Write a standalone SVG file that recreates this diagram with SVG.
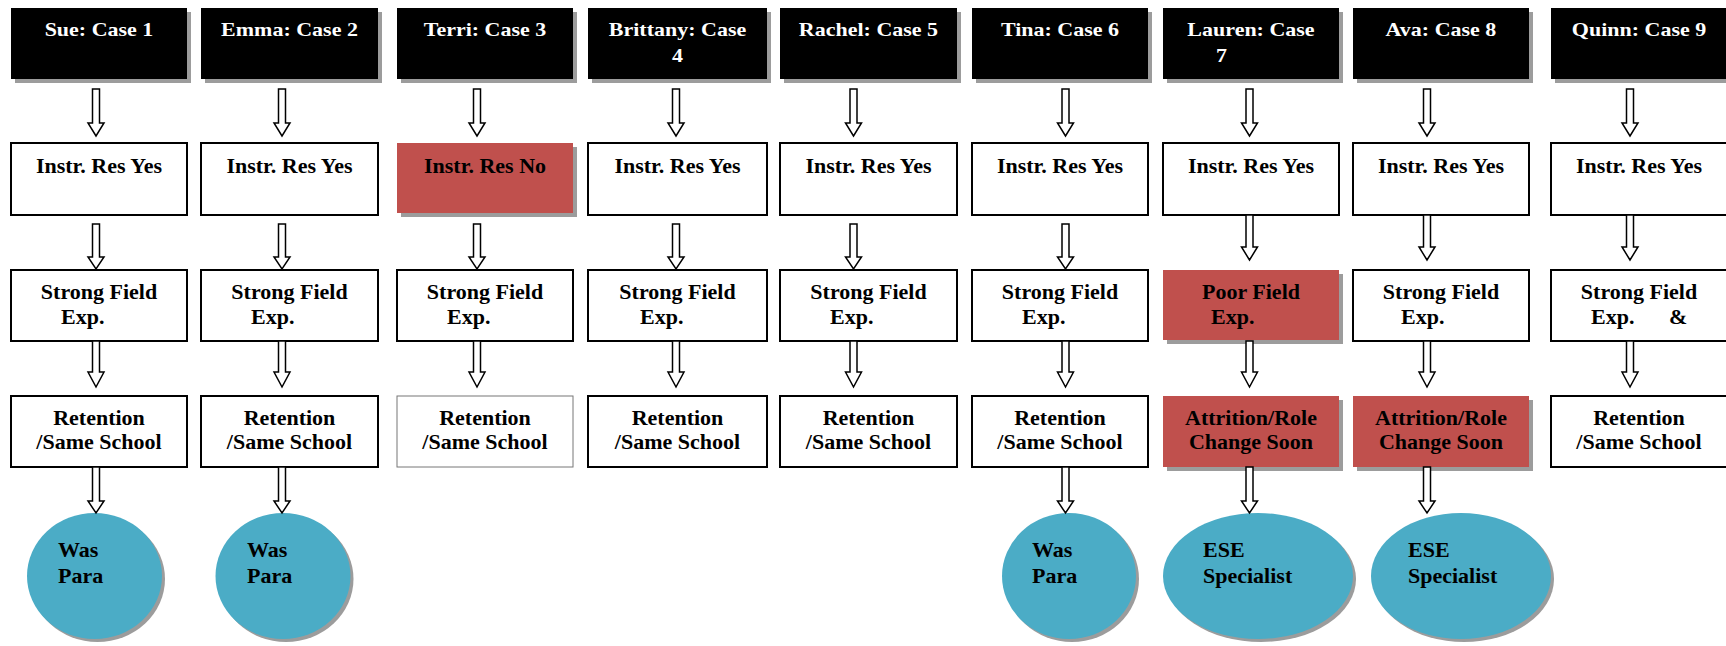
<svg xmlns="http://www.w3.org/2000/svg" width="1726" height="646" viewBox="0 0 1726 646">
<style>
.hdr{fill:#000}
.sh{fill:#9c9c9c}
.box{fill:#fff;stroke:#000;stroke-width:2}
.box2{fill:#fff;stroke:#777;stroke-width:1}
.red{fill:#C0504D}
.circ{fill:#4BACC6}
.t{font-family:"Liberation Serif","Times New Roman",serif;font-weight:bold;font-size:22px;fill:#000}
.c{text-anchor:middle}
.w{fill:#fff}
.arr{fill:#fff;stroke:#000;stroke-width:1.5}
</style>
<rect width="1726" height="646" fill="#fff"/>

<!-- Headers -->
<g id="h1"><rect class="sh" x="15" y="12" width="176" height="71"/><rect class="hdr" x="11" y="8" width="176" height="71"/><text class="t c w" transform="translate(99,36) scale(1,0.82)">Sue: Case 1</text></g>
<g id="h2"><rect class="sh" x="205" y="12" width="177" height="71"/><rect class="hdr" x="201" y="8" width="177" height="71"/><text class="t c w" transform="translate(289.5,36) scale(1,0.82)">Emma: Case 2</text></g>
<g id="h3"><rect class="sh" x="401" y="12" width="176" height="71"/><rect class="hdr" x="397" y="8" width="176" height="71"/><text class="t c w" transform="translate(485,36) scale(1,0.82)">Terri: Case 3</text></g>
<g id="h4"><rect class="sh" x="592" y="12" width="179" height="71"/><rect class="hdr" x="588" y="8" width="179" height="71"/><text class="t c w" transform="translate(677.5,36) scale(1,0.82)">Brittany: Case<tspan x="0" y="31.7">4</tspan></text></g>
<g id="h5"><rect class="sh" x="784" y="12" width="177" height="71"/><rect class="hdr" x="780" y="8" width="177" height="71"/><text class="t c w" transform="translate(868.5,36) scale(1,0.82)">Rachel: Case 5</text></g>
<g id="h6"><rect class="sh" x="976" y="12" width="176" height="71"/><rect class="hdr" x="972" y="8" width="176" height="71"/><text class="t c w" transform="translate(1060,36) scale(1,0.82)">Tina: Case 6</text></g>
<g id="h7"><rect class="sh" x="1167" y="12" width="176" height="71"/><rect class="hdr" x="1163" y="8" width="176" height="71"/><text class="t c w" transform="translate(1251,36) scale(1,0.82)">Lauren: Case<tspan x="-35" y="31.7" text-anchor="start">7</tspan></text></g>
<g id="h8"><rect class="sh" x="1357" y="12" width="176" height="71"/><rect class="hdr" x="1353" y="8" width="176" height="71"/><text class="t c w" transform="translate(1441,36) scale(1,0.82)">Ava: Case 8</text></g>
<g id="h9"><rect class="sh" x="1555" y="12" width="176" height="71"/><rect class="hdr" x="1551" y="8" width="176" height="71"/><text class="t c w" transform="translate(1639,36) scale(1,0.82)">Quinn: Case 9</text></g>

<!-- Instructional resources -->
<g id="i1"><rect class="box" x="11" y="143" width="176" height="72"/><text class="t c" x="99" y="173">Instr. Res Yes</text></g>
<g id="i2"><rect class="box" x="201" y="143" width="177" height="72"/><text class="t c" x="289.5" y="173">Instr. Res Yes</text></g>
<g id="i3"><rect class="sh" x="401" y="147" width="176" height="70"/><rect class="red" x="397" y="143" width="176" height="70"/><text class="t c" x="485" y="173">Instr. Res No</text></g>
<g id="i4"><rect class="box" x="588" y="143" width="179" height="72"/><text class="t c" x="677.5" y="173">Instr. Res Yes</text></g>
<g id="i5"><rect class="box" x="780" y="143" width="177" height="72"/><text class="t c" x="868.5" y="173">Instr. Res Yes</text></g>
<g id="i6"><rect class="box" x="972" y="143" width="176" height="72"/><text class="t c" x="1060" y="173">Instr. Res Yes</text></g>
<g id="i7"><rect class="box" x="1163" y="143" width="176" height="72"/><text class="t c" x="1251" y="173">Instr. Res Yes</text></g>
<g id="i8"><rect class="box" x="1353" y="143" width="176" height="72"/><text class="t c" x="1441" y="173">Instr. Res Yes</text></g>
<g id="i9"><rect class="box" x="1551" y="143" width="177" height="72"/><text class="t c" x="1639" y="173">Instr. Res Yes</text></g>

<!-- Field experience -->
<g id="f1"><rect class="box" x="11" y="270" width="176" height="71"/><text class="t c" x="99" y="299">Strong Field</text><text class="t" x="61" y="324">Exp.</text></g>
<g id="f2"><rect class="box" x="201" y="270" width="177" height="71"/><text class="t c" x="289.5" y="299">Strong Field</text><text class="t" x="251" y="324">Exp.</text></g>
<g id="f3"><rect class="box" x="397" y="270" width="176" height="71"/><text class="t c" x="485" y="299">Strong Field</text><text class="t" x="447" y="324">Exp.</text></g>
<g id="f4"><rect class="box" x="588" y="270" width="179" height="71"/><text class="t c" x="677.5" y="299">Strong Field</text><text class="t" x="640" y="324">Exp.</text></g>
<g id="f5"><rect class="box" x="780" y="270" width="177" height="71"/><text class="t c" x="868.5" y="299">Strong Field</text><text class="t" x="830" y="324">Exp.</text></g>
<g id="f6"><rect class="box" x="972" y="270" width="176" height="71"/><text class="t c" x="1060" y="299">Strong Field</text><text class="t" x="1022" y="324">Exp.</text></g>
<g id="f7"><rect class="sh" x="1167" y="274" width="176" height="70"/><rect class="red" x="1163" y="270" width="176" height="70"/><text class="t c" x="1251" y="299">Poor Field</text><text class="t" x="1211" y="324">Exp.</text></g>
<g id="f8"><rect class="box" x="1353" y="270" width="176" height="71"/><text class="t c" x="1441" y="299">Strong Field</text><text class="t" x="1401" y="324">Exp.</text></g>
<g id="f9"><rect class="box" x="1551" y="270" width="177" height="71"/><text class="t c" x="1639" y="299">Strong Field</text><text class="t" y="324"><tspan x="1591">Exp.</tspan><tspan x="1669">&amp;</tspan></text></g>

<!-- Retention -->
<g id="r1"><rect class="box" x="11" y="396" width="176" height="71"/><text class="t c" x="99" y="425">Retention</text><text class="t c" x="99" y="449">/Same School</text></g>
<g id="r2"><rect class="box" x="201" y="396" width="177" height="71"/><text class="t c" x="289.5" y="425">Retention</text><text class="t c" x="289.5" y="449">/Same School</text></g>
<g id="r3"><rect class="box2" x="397" y="396" width="176" height="71"/><text class="t c" x="485" y="425">Retention</text><text class="t c" x="485" y="449">/Same School</text></g>
<g id="r4"><rect class="box" x="588" y="396" width="179" height="71"/><text class="t c" x="677.5" y="425">Retention</text><text class="t c" x="677.5" y="449">/Same School</text></g>
<g id="r5"><rect class="box" x="780" y="396" width="177" height="71"/><text class="t c" x="868.5" y="425">Retention</text><text class="t c" x="868.5" y="449">/Same School</text></g>
<g id="r6"><rect class="box" x="972" y="396" width="176" height="71"/><text class="t c" x="1060" y="425">Retention</text><text class="t c" x="1060" y="449">/Same School</text></g>
<g id="r7"><rect class="sh" x="1167" y="400" width="176" height="71"/><rect class="red" x="1163" y="396" width="176" height="71"/><text class="t c" x="1251" y="425">Attrition/Role</text><text class="t c" x="1251" y="449">Change Soon</text></g>
<g id="r8"><rect class="sh" x="1357" y="400" width="176" height="71"/><rect class="red" x="1353" y="396" width="176" height="71"/><text class="t c" x="1441" y="425">Attrition/Role</text><text class="t c" x="1441" y="449">Change Soon</text></g>
<g id="r9"><rect class="box" x="1551" y="396" width="177" height="71"/><text class="t c" x="1639" y="425">Retention</text><text class="t c" x="1639" y="449">/Same School</text></g>

<!-- Outcomes -->
<g id="o1"><ellipse class="sh" cx="97.5" cy="579" rx="67.5" ry="63"/><ellipse class="circ" cx="94.5" cy="576" rx="67.5" ry="63"/><text class="t" x="58" y="557">Was</text><text class="t" x="58" y="583">Para</text></g>
<g id="o2"><ellipse class="sh" cx="286" cy="579" rx="67.5" ry="63"/><ellipse class="circ" cx="283" cy="576" rx="67.5" ry="63"/><text class="t" x="247" y="557">Was</text><text class="t" x="247" y="583">Para</text></g>
<g id="o6"><ellipse class="sh" cx="1072" cy="579" rx="67" ry="63"/><ellipse class="circ" cx="1069" cy="576" rx="67" ry="63"/><text class="t" x="1032" y="557">Was</text><text class="t" x="1032" y="583">Para</text></g>
<g id="o7"><ellipse class="sh" cx="1261" cy="579" rx="95" ry="63"/><ellipse class="circ" cx="1258" cy="576" rx="95" ry="63"/><text class="t" x="1203" y="557">ESE</text><text class="t" x="1203" y="583">Specialist</text></g>
<g id="o8"><ellipse class="sh" cx="1464" cy="579" rx="90" ry="63"/><ellipse class="circ" cx="1461" cy="576" rx="90" ry="63"/><text class="t" x="1408" y="557">ESE</text><text class="t" x="1408" y="583">Specialist</text></g>

<!-- Connectors -->
<g id="connectors">
<!-- row 1 -->
<polygon class="arr" points="92.5,89 99.5,89 99.5,123 104,123 96,136 88,123 92.5,123"/>
<polygon class="arr" points="278.5,89 285.5,89 285.5,123 290,123 282,136 274,123 278.5,123"/>
<polygon class="arr" points="473.5,89 480.5,89 480.5,123 485,123 477,136 469,123 473.5,123"/>
<polygon class="arr" points="672.5,89 679.5,89 679.5,123 684,123 676,136 668,123 672.5,123"/>
<polygon class="arr" points="850,89 857,89 857,123 861.5,123 853.5,136 845.5,123 850,123"/>
<polygon class="arr" points="1062,89 1069,89 1069,123 1073.5,123 1065.5,136 1057.5,123 1062,123"/>
<polygon class="arr" points="1246,89 1253,89 1253,123 1257.5,123 1249.5,136 1241.5,123 1246,123"/>
<polygon class="arr" points="1423.5,89 1430.5,89 1430.5,123 1435,123 1427,136 1419,123 1423.5,123"/>
<polygon class="arr" points="1626.5,89 1633.5,89 1633.5,123 1638,123 1630,136 1622,123 1626.5,123"/>
<!-- row 2 -->
<polygon class="arr" points="92.5,224 99.5,224 99.5,257 104,257 96,269 88,257 92.5,257"/>
<polygon class="arr" points="278.5,224 285.5,224 285.5,257 290,257 282,269 274,257 278.5,257"/>
<polygon class="arr" points="473.5,224 480.5,224 480.5,257 485,257 477,269 469,257 473.5,257"/>
<polygon class="arr" points="672.5,224 679.5,224 679.5,257 684,257 676,269 668,257 672.5,257"/>
<polygon class="arr" points="850,224 857,224 857,257 861.5,257 853.5,269 845.5,257 850,257"/>
<polygon class="arr" points="1062,224 1069,224 1069,257 1073.5,257 1065.5,269 1057.5,257 1062,257"/>
<polygon class="arr" points="1246,215 1253,215 1253,247 1257.5,247 1249.5,260 1241.5,247 1246,247"/>
<polygon class="arr" points="1423.5,215 1430.5,215 1430.5,247 1435,247 1427,260 1419,247 1423.5,247"/>
<polygon class="arr" points="1626.5,215 1633.5,215 1633.5,247 1638,247 1630,260 1622,247 1626.5,247"/>
<!-- row 3 -->
<polygon class="arr" points="92.5,341 99.5,341 99.5,372 104,372 96,387 88,372 92.5,372"/>
<polygon class="arr" points="278.5,341 285.5,341 285.5,372 290,372 282,387 274,372 278.5,372"/>
<polygon class="arr" points="473.5,341 480.5,341 480.5,372 485,372 477,387 469,372 473.5,372"/>
<polygon class="arr" points="672.5,341 679.5,341 679.5,372 684,372 676,387 668,372 672.5,372"/>
<polygon class="arr" points="850,341 857,341 857,372 861.5,372 853.5,387 845.5,372 850,372"/>
<polygon class="arr" points="1062,341 1069,341 1069,372 1073.5,372 1065.5,387 1057.5,372 1062,372"/>
<polygon class="arr" points="1246,341 1253,341 1253,372 1257.5,372 1249.5,387 1241.5,372 1246,372"/>
<polygon class="arr" points="1423.5,341 1430.5,341 1430.5,372 1435,372 1427,387 1419,372 1423.5,372"/>
<polygon class="arr" points="1626.5,341 1633.5,341 1633.5,372 1638,372 1630,387 1622,372 1626.5,372"/>
<!-- row 4 -->
<polygon class="arr" points="92.5,467 99.5,467 99.5,501 104,501 96,513 88,501 92.5,501"/>
<polygon class="arr" points="278.5,467 285.5,467 285.5,501 290,501 282,513 274,501 278.5,501"/>
<polygon class="arr" points="1062,467 1069,467 1069,501 1073.5,501 1065.5,513 1057.5,501 1062,501"/>
<polygon class="arr" points="1246,467 1253,467 1253,501 1257.5,501 1249.5,513 1241.5,501 1246,501"/>
<polygon class="arr" points="1423.5,467 1430.5,467 1430.5,501 1435,501 1427,513 1419,501 1423.5,501"/>
</g>
</svg>
